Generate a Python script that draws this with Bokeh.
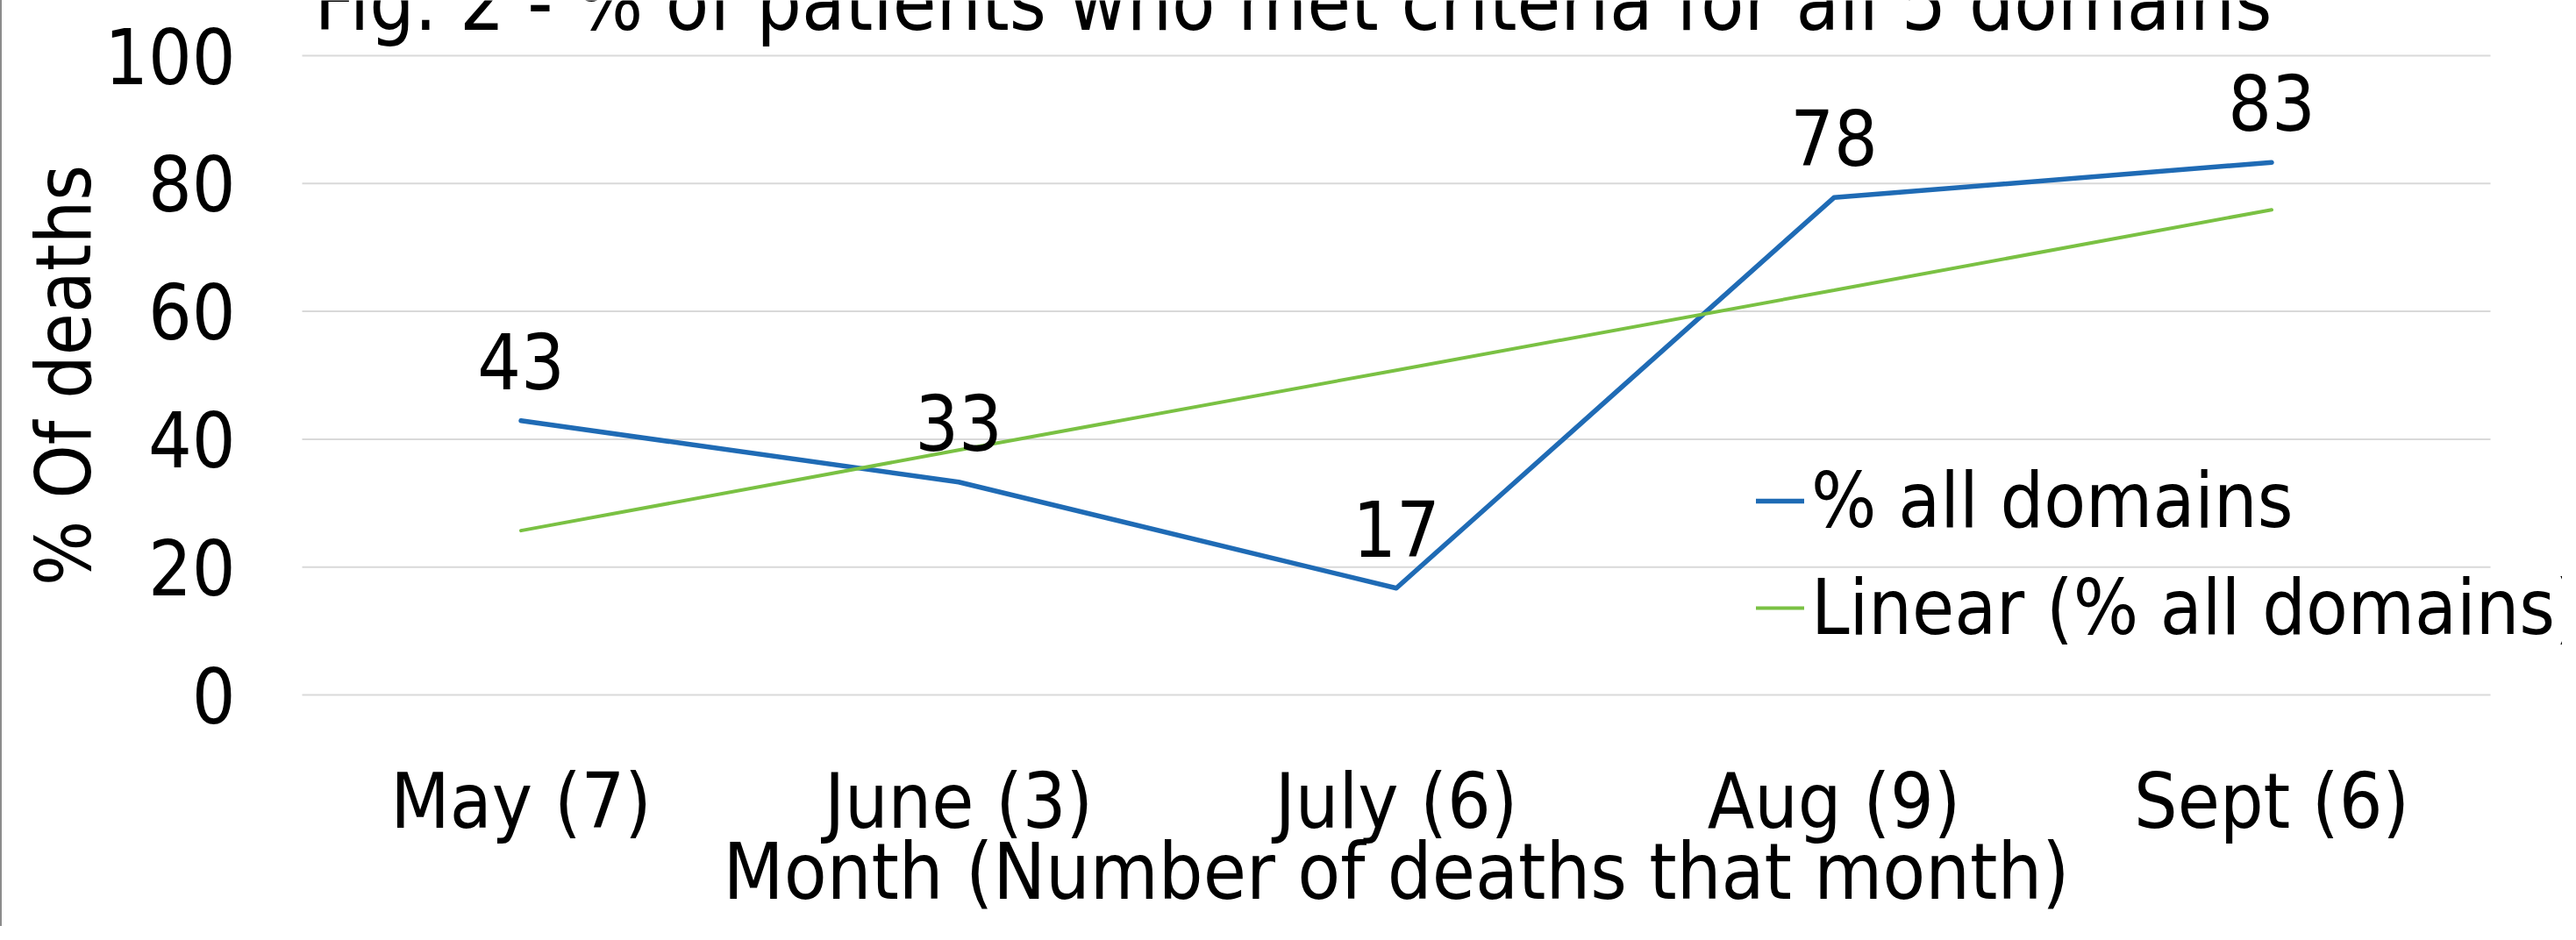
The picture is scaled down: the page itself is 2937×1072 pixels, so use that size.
from bokeh.plotting import figure
from bokeh.models import Range1d, Legend, LegendItem, Label, FixedTicker
from bokeh.core.properties import value
from bokeh.embed import file_html
from bokeh.resources import INLINE

# ---- data ----
categories = ["May (7)", "June (3)", "July (6)", "Aug (9)", "Sept (6)"]
pct_all_domains = [42.9, 33.3, 16.7, 77.8, 83.3]
value_labels = ["43", "33", "17", "78", "83"]
trend_linear = [25.7, 38.3, 50.8, 63.3, 75.9]
y_ticks = [0, 20, 40, 60, 80, 100]

title_text = "Fig. 2 - % of patients who met criteria for all 5 domains"
x_title = "Month (Number of deaths that month)"
y_title = "% Of deaths"
series_name = "% all domains"
trend_name = "Linear (% all domains)"

# category positions on a numeric axis (index of each category)
x_idx = list(range(len(categories)))

FONT = "DejaVu Sans Condensed"
BLUE = "#1F6BB5"
GREEN = "#7AC143"
GRID = "#D9D9D9"

# ---- layout (pixels) ----
W, H = 2919, 1056
PLOT_L, PLOT_R = 342, 2837     # extent of the category bands
PLOT_T, PLOT_B = 63, 792       # y = 100 and y = 0
BAND = (PLOT_R - PLOT_L) / len(categories)
PX_PER_UNIT = (PLOT_B - PLOT_T) / 100.0

# frame is made symmetric around the plot area so that axis titles stay centred
pad_x = W - PLOT_R
pad_y = PLOT_T
FRAME_L = PLOT_L - pad_x
FRAME_B = PLOT_B + pad_y
x_start = -0.5 - pad_x / BAND
x_end = len(categories) - 0.5 + pad_x / BAND
y_start = -pad_y / PX_PER_UNIT
y_end = 100 + pad_y / PX_PER_UNIT

p = figure(
    title=None,
    x_range=Range1d(x_start, x_end),
    y_range=Range1d(y_start, y_end),
    width=W,
    height=H,
    output_backend="svg",
    toolbar_location=None,
    min_border_left=FRAME_L,
    min_border_right=0,
    min_border_top=0,
    min_border_bottom=H - FRAME_B,
    outline_line_color=None,
    background_fill_color="white",
    border_fill_color="white",
)
p.styles = {"border-left": "2px solid #8C8C8C"}

p.xgrid.visible = False
p.ygrid.visible = False

# horizontal gridlines across the category bands only
p.segment(x0=[-0.5] * len(y_ticks), x1=[len(categories) - 0.5] * len(y_ticks),
          y0=y_ticks, y1=y_ticks, line_color=GRID, line_width=2)

p.xaxis.ticker = FixedTicker(ticks=x_idx)
p.xaxis.major_label_overrides = {i: c for i, c in zip(x_idx, categories)}
p.yaxis.ticker = FixedTicker(ticks=y_ticks)

for ax in (p.xaxis, p.yaxis):
    ax.axis_line_color = None
    ax.major_tick_line_color = None
    ax.minor_tick_line_color = None
    ax.major_tick_out = 0
    ax.major_tick_in = 0
    ax.major_label_text_font = FONT
    ax.major_label_text_font_size = "87px"
    ax.major_label_text_color = "black"
    ax.major_label_text_line_height = 1.0
    ax.axis_label_text_font = FONT
    ax.axis_label_text_font_style = "normal"
    ax.axis_label_text_color = "black"
    ax.axis_label_text_line_height = 1.0

p.xaxis.axis_label = x_title
p.yaxis.axis_label = y_title
p.xaxis.axis_label_text_font_size = "89px"
p.yaxis.axis_label_text_font_size = "87px"
p.xaxis.major_label_standoff = 70 - pad_y
p.xaxis.axis_label_standoff = -26
p.yaxis.major_label_standoff = 76 - pad_x
p.yaxis.axis_label_standoff = -8

r_series = p.line(x=x_idx, y=pct_all_domains, line_color=BLUE, line_width=5.5,
                  line_join="round", line_cap="round")
r_trend = p.line(x=x_idx, y=trend_linear, line_color=GREEN, line_width=4,
                 line_cap="round")

p.text(x=x_idx, y=pct_all_domains, text=value_labels, text_align="center",
       text_baseline="alphabetic", y_offset=-68, text_font=value(FONT),
       text_font_size="87px", text_color="black")

legend = Legend(
    items=[LegendItem(label=series_name, renderers=[r_series]),
           LegendItem(label=trend_name, renderers=[r_trend])],
    location=(2000 - FRAME_L, FRAME_B - 744),
    label_text_font=FONT,
    label_text_font_size="87px",
    label_text_color="black",
    glyph_width=55,
    glyph_height=40,
    label_standoff=8,
    spacing=20,
    padding=0,
    margin=0,
    border_line_color=None,
    background_fill_alpha=0,
)
p.add_layout(legend)

title_label = Label(x=1472 - FRAME_L, x_units="screen", y=100, y_units="data", y_offset=61,
                    text=title_text, text_align="center", text_baseline="alphabetic",
                    text_font=FONT, text_font_size="90px", text_color="black")
p.add_layout(title_label)

html = file_html(p, INLINE, title="Fig. 2")
open("out.html", "w").write(html)
